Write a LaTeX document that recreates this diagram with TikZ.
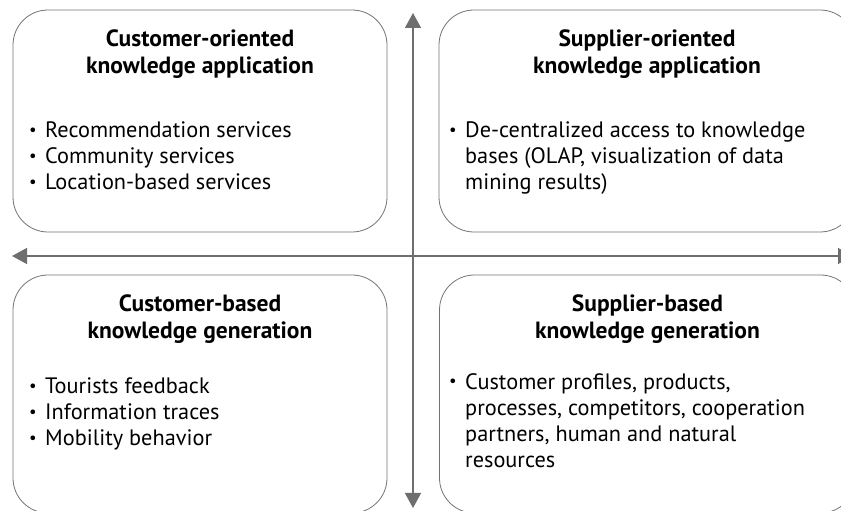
\documentclass[tikz,border=0pt]{standalone}
\usepackage{fontspec}
\usepackage{graphicx}
\setmainfont{PT Sans}
\usetikzlibrary{arrows.meta,positioning}
\definecolor{edge}{HTML}{737373}
\definecolor{axis}{HTML}{6E6E6E}
\definecolor{ink}{HTML}{000000}
\tikzset{
  quad/.style={draw=edge, line width=0.8pt, rounded corners=35pt, inner sep=0pt},
  axisline/.style={draw=axis, line width=1.3pt, >={Triangle[length=15pt,width=16pt]}, <->},
  head/.style={text=ink, font=\fontsize{23.5}{27}\selectfont\bfseries, align=center, inner sep=0pt, anchor=north},
  items/.style={text=ink, font=\fontsize{22.3}{26}\selectfont, align=left, inner sep=0pt, anchor=north west}
}
\newcommand{\dotmark}{\raisebox{0.2ex}{\scalebox{0.75}{\textbullet}}}
\newcommand{\itm}{\makebox[16pt][l]{\dotmark}}
\newcommand{\cont}{\hspace*{16pt}}

\begin{document}
\begin{tikzpicture}[x=1pt,y=1pt]
  \useasboundingbox (0,0) rectangle (841,511);
  \clip (0,0) rectangle (841,511);
  % four quadrants
  \node[quad, minimum width=374pt, minimum height=222pt] (coapp) at (200,390) {};
  \node[quad, minimum width=416pt, minimum height=222pt] (soapp) at (647,390) {};
  \node[quad, minimum width=374pt, minimum height=238pt] (cbgen) at (200,117) {};
  \node[quad, minimum width=416pt, minimum height=238pt] (sbgen) at (647.5,117) {};
  % titles
  \node[head] (coapphead) at (200,481.5) {Customer-oriented\\knowledge application};
  \node[head] (soapphead) at (647,481.5) {Supplier-oriented\\knowledge application};
  \node[head] (cbgenhead) at (200,216.5) {Customer-based\\knowledge generation};
  \node[head] (sbgenhead) at (647.5,216.5) {Supplier-based\\knowledge generation};
  % bullet lists
  \node[items] (coappitems) at (29,389) {\itm Recommendation services\\\itm Community services\\\itm Location-based services};
  \node[items] (soappitems) at (449,389) {\itm De-centralized access to knowledge\\\cont bases (OLAP, visualization of data\\\cont mining results)};
  \node[items] (cbgenitems) at (29,133) {\itm Tourists feedback\\\itm Information traces\\\itm Mobility behavior};
  \node[items] (sbgenitems) at (449,138) {\itm Customer profiles, products,\\\cont processes, competitors, cooperation\\\cont partners, human and natural\\\cont resources};
  % axes
  \coordinate (west) at (12,255);
  \coordinate (east) at (853,255);
  \coordinate (north) at (413,498);
  \coordinate (south) at (413,3);
  \draw[axisline] (west) -- (east);
  \draw[axisline] (south) -- (north);
\end{tikzpicture}
\end{document}
